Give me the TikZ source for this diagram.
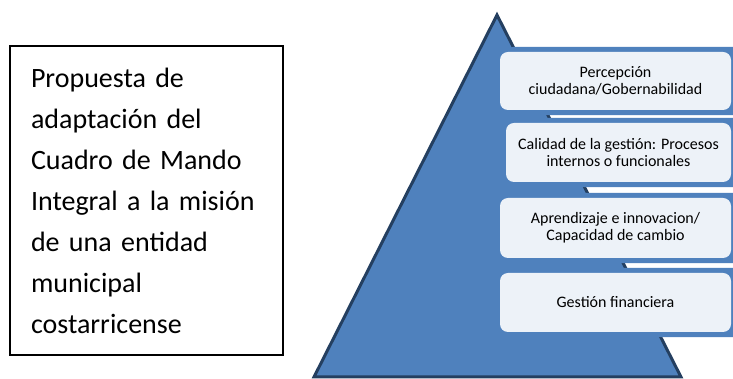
\documentclass[tikz,border=0pt]{standalone}
\usepackage{fontspec}
\setmainfont{Carlito}
\usetikzlibrary{calc}
\definecolor{accent}{HTML}{4F81BD}
\definecolor{darkline}{HTML}{243F60}
\pgfdeclarelayer{tri}
\pgfdeclarelayer{back}
\pgfsetlayers{tri,back,main}
\begin{document}
\begin{tikzpicture}[x=1pt,y=1pt,
  lvl/.style={rounded corners=8pt, fill=white, fill opacity=0.9, text opacity=1,
    minimum width=231pt, minimum height=58pt, align=center, inner sep=0pt,
    font=\fontsize{16}{17}\selectfont},
  backdrop/.style={fill=accent, rounded corners=8pt},
  leftbox/.style={draw, line width=1.5pt, minimum width=273pt, minimum height=309pt,
    text width=231pt, inner xsep=21pt, align=left,
    font=\fontsize{28}{41}\selectfont}]
\useasboundingbox (0,0) rectangle (733,379);
% left text box
\node[leftbox] (lb) at (146.5,178.5) {Propuesta de\\adaptación del\\Cuadro de Mando\\Integral a la misión\\de una entidad\\municipal\\costarricense};
% pyramid
\begin{pgfonlayer}{tri}
\coordinate (apex) at (497,364);
\coordinate (bl) at (314,2);
\coordinate (br) at (681,2);
\filldraw[fill=accent, draw=darkline, line width=3pt] (apex) -- (br) -- (bl) -- cycle;
\end{pgfonlayer}
% levels
\node[lvl] (p1) at (615.5,298) {Percepción\\ciudadana/Gobernabilidad};
\node[lvl, minimum width=225pt, minimum height=59pt] (p2) at (618.5,226.5) {Calidad de la gestión: Procesos\\internos o funcionales};
\node[lvl, minimum height=60pt] (p3) at (615.5,151) {Aprendizaje e innovacion/\\Capacidad de cambio};
\node[lvl, minimum height=59pt] (p4) at (615.5,76.5) {Gestión financiera};
\begin{pgfonlayer}{back}
\foreach \n in {p1,p2,p3,p4}{
  \fill[backdrop] ($(\n.south west)+(6,-5)$) rectangle ($(\n.north east)+(16,5)$);
}
\end{pgfonlayer}
\end{tikzpicture}
\end{document}
